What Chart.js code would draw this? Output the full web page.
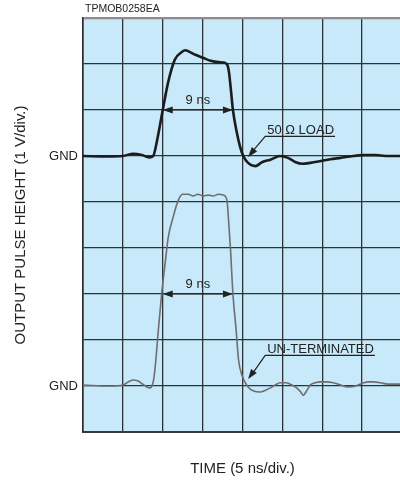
<!DOCTYPE html>
<html>
<head>
<meta charset="utf-8">
<script src="https://cdn.jsdelivr.net/npm/chart.js@4"></script>
<style>
  html, body { margin: 0; padding: 0; background: #ffffff; overflow: hidden; }
  canvas { display: block; }
</style>
</head>
<body>
<canvas id="myChart" width="402" height="483"></canvas>
<script>
// time in ns, pulse height in divisions (1 V/div.) counted from the bottom of the screen
const loadTime = [0, 3, 5, 6.3, 7.4, 8.3, 8.8, 9.3, 10.0, 10.66, 11.5, 12.4, 12.8, 13.3, 14.1, 15.1, 16.0, 17.0, 17.7, 18.1, 18.3, 18.55, 18.8, 19.3, 19.7, 20.1, 20.7, 21.6, 22.5, 23.5, 24.7, 25.7, 26.6, 27.5, 28.5, 29.8, 31.0, 32.3, 33.5, 35.2, 36.7, 37.9, 40]
const loadVolts = [6.0, 5.99, 6.0, 6.05, 6.02, 5.97, 6.0, 6.35, 7.0, 7.59, 8.09, 8.26, 8.30, 8.27, 8.2, 8.13, 8.07, 8.04, 8.03, 7.98, 7.83, 7.43, 7.0, 6.5, 6.2, 6.0, 5.85, 5.78, 5.87, 5.92, 6.0, 5.96, 5.87, 5.83, 5.85, 5.89, 5.93, 5.96, 5.99, 6.02, 6.02, 6.0, 6.0]

const openTime = [0, 3.4, 5.0, 5.7, 6.3, 6.9, 7.5, 8.0, 8.4, 8.85, 9.1, 9.45, 9.86, 10.3, 10.7, 11.3, 11.95, 12.5, 13.2, 13.8, 14.4, 15.1, 15.7, 16.3, 17.0, 17.6, 18.05, 18.25, 18.5, 18.8, 19.2, 19.5, 20.0, 20.7, 21.4, 22.2, 22.9, 23.5, 24.1, 24.7, 25.4, 26.0, 26.8, 27.3, 27.6, 28.1, 28.5, 29.1, 29.8, 30.5, 31.4, 32.3, 33.2, 34.2, 35.2, 35.8, 36.4, 37.3, 38.2, 40]
const openVolts = [1.02, 1.0, 1.02, 1.09, 1.13, 1.11, 1.04, 0.98, 0.96, 1.13, 1.5, 2.22, 3.0, 3.67, 4.24, 4.67, 5.04, 5.17, 5.17, 5.13, 5.17, 5.13, 5.15, 5.13, 5.17, 5.15, 5.04, 4.61, 3.96, 3.0, 2.22, 1.57, 1.2, 0.98, 0.89, 0.87, 0.91, 0.96, 1.02, 1.07, 1.07, 1.04, 0.96, 0.87, 0.80, 0.91, 1.02, 1.07, 1.09, 1.09, 1.07, 1.02, 0.98, 1.0, 1.07, 1.09, 1.09, 1.07, 1.04, 1.04]

// axis: 8 divisions of 5 ns, 9 divisions of 1 V
const timeTicks = [0, 5, 10, 15, 20, 25, 30, 35, 40]
const voltTicks = [0, 1, 2, 3, 4, 5, 6, 7, 8, 9]
const gndLevels = [1, 6]

// "9 ns" width markers: [start ns, end ns, level]
const widthMarks = [[10.0, 18.8, 7], [10.0, 18.8, 3]]
// callouts: [text, text ns, text level, target ns, target level]
const callouts = [
    ["50 \u03A9 LOAD", 23.1, 6.48, 20.7, 5.98],
    ["UN-TERMINATED", 23.1, 1.72, 20.7, 1.15]
]

const ink = '#222222'
Chart.defaults.font.family = "'Liberation Sans', Arial, sans-serif"

function toPoints(xs, ys) {
    let pts = []
    for (let i = 0; i < xs.length; i++) {
        pts.push({x: xs[i], y: ys[i]})
    }
    return pts
}

function arrowHead(ctx, fx, fy, tx, ty) {
    const a = Math.atan2(ty - fy, tx - fx)
    const len = 10, hw = 3.5
    ctx.beginPath()
    ctx.moveTo(tx, ty)
    ctx.lineTo(tx - len * Math.cos(a) + hw * Math.sin(a), ty - len * Math.sin(a) - hw * Math.cos(a))
    ctx.lineTo(tx - len * Math.cos(a) - hw * Math.sin(a), ty - len * Math.sin(a) + hw * Math.cos(a))
    ctx.closePath()
    ctx.fill()
}

// light blue screen behind the grid
const screenBg = {
    id: 'screenBg',
    beforeDraw(chart) {
        const a = chart.chartArea
        chart.ctx.save()
        chart.ctx.fillStyle = '#c8e9f9'
        chart.ctx.fillRect(a.left, a.top, a.right - a.left, a.bottom - a.top)
        chart.ctx.restore()
    }
}

// arrows, labels and the figure code
const annotate = {
    id: 'annotate',
    afterDatasetsDraw(chart) {
        const ctx = chart.ctx
        const xs = chart.scales.x, ys = chart.scales.y
        ctx.save()
        ctx.fillStyle = ink
        ctx.strokeStyle = ink
        ctx.lineWidth = 1.2

        ctx.font = "13px 'Liberation Sans', Arial, sans-serif"
        for (const m of widthMarks) {
            const x0 = xs.getPixelForValue(m[0]), x1 = xs.getPixelForValue(m[1])
            const y = ys.getPixelForValue(m[2])
            ctx.beginPath()
            ctx.moveTo(x0 + 6, y)
            ctx.lineTo(x1 - 6, y)
            ctx.stroke()
            arrowHead(ctx, x1, y, x0, y)
            arrowHead(ctx, x0, y, x1, y)
            ctx.textAlign = 'center'
            ctx.textBaseline = 'alphabetic'
            ctx.fillText('9 ns', (x0 + x1) / 2, y - 6)
        }

        for (const c of callouts) {
            const tx = xs.getPixelForValue(c[1]), ty = ys.getPixelForValue(c[2])
            const px = xs.getPixelForValue(c[3]), py = ys.getPixelForValue(c[4])
            ctx.textAlign = 'left'
            ctx.textBaseline = 'alphabetic'
            ctx.fillText(c[0], tx, ty)
            const w = ctx.measureText(c[0]).width
            ctx.beginPath()
            ctx.moveTo(tx + w + 1, ty + 2.5)
            ctx.lineTo(tx - 2, ty + 2.5)
            ctx.lineTo(px + 4, py - 5)
            ctx.stroke()
            arrowHead(ctx, tx - 2, ty + 2.5, px, py)
        }

        ctx.font = "10.5px 'Liberation Sans', Arial, sans-serif"
        ctx.textAlign = 'left'
        ctx.textBaseline = 'middle'
        ctx.fillText('TPMOB0258EA', chart.chartArea.left + 2, 9)
        ctx.restore()
    }
}

const config = {
    type: 'line',
    data: {
        datasets: [
            {
                label: '50 \u03A9 LOAD',
                data: toPoints(loadTime, loadVolts),
                borderColor: '#1c1c1c',
                borderWidth: 2.6,
                pointRadius: 0,
                cubicInterpolationMode: 'monotone'
            },
            {
                label: 'UN-TERMINATED',
                data: toPoints(openTime, openVolts),
                borderColor: '#6e6e6e',
                borderWidth: 1.6,
                pointRadius: 0,
                cubicInterpolationMode: 'monotone'
            }
        ]
    },
    plugins: [screenBg, annotate],
    options: {
        responsive: false,
        animation: false,
        devicePixelRatio: 1,
        layout: { padding: { top: 18, right: 0, bottom: 0, left: 0 } },
        scales: {
            x: {
                type: 'linear',
                min: timeTicks[0],
                max: timeTicks[timeTicks.length - 1],
                afterBuildTicks: function(scale) {
                    scale.ticks = timeTicks.map(v => ({value: v}))
                },
                afterFit: function(scale) { scale.height = 51 },
                ticks: { display: false },
                grid: { color: '#2f3336', lineWidth: 1.3, drawTicks: false },
                border: { display: true, color: '#3a3a3a', width: 2 },
                title: {
                    display: true,
                    text: 'TIME (5 ns/div.)',
                    color: ink,
                    font: { size: 15 },
                    padding: { top: 0, bottom: 5 }
                }
            },
            y: {
                type: 'linear',
                min: voltTicks[0],
                max: voltTicks[voltTicks.length - 1],
                afterBuildTicks: function(scale) {
                    scale.ticks = voltTicks.map(v => ({value: v}))
                },
                afterFit: function(scale) { scale.width = 83 },
                ticks: {
                    color: ink,
                    font: { size: 13 },
                    padding: 5,
                    autoSkip: false,
                    callback: function(value) {
                        return gndLevels.includes(value) ? 'GND' : ''
                    }
                },
                grid: {
                    drawTicks: false,
                    color: function(c) { return c.tick && c.tick.value === 9 ? '#8c8c8c' : '#2f3336' },
                    lineWidth: function(c) { return c.tick && c.tick.value === 9 ? 2.2 : 1.3 }
                },
                border: { display: true, color: '#2a2a2a', width: 1.6 },
                title: {
                    display: true,
                    text: 'OUTPUT PULSE HEIGHT (1 V/div.)',
                    color: ink,
                    font: { size: 15 },
                    padding: { top: 12, bottom: 0 }
                }
            }
        },
        plugins: {
            legend: { display: false },
            tooltip: { enabled: false }
        }
    }
}

const myChart = new Chart(document.getElementById('myChart'), config)
</script>
</body>
</html>
